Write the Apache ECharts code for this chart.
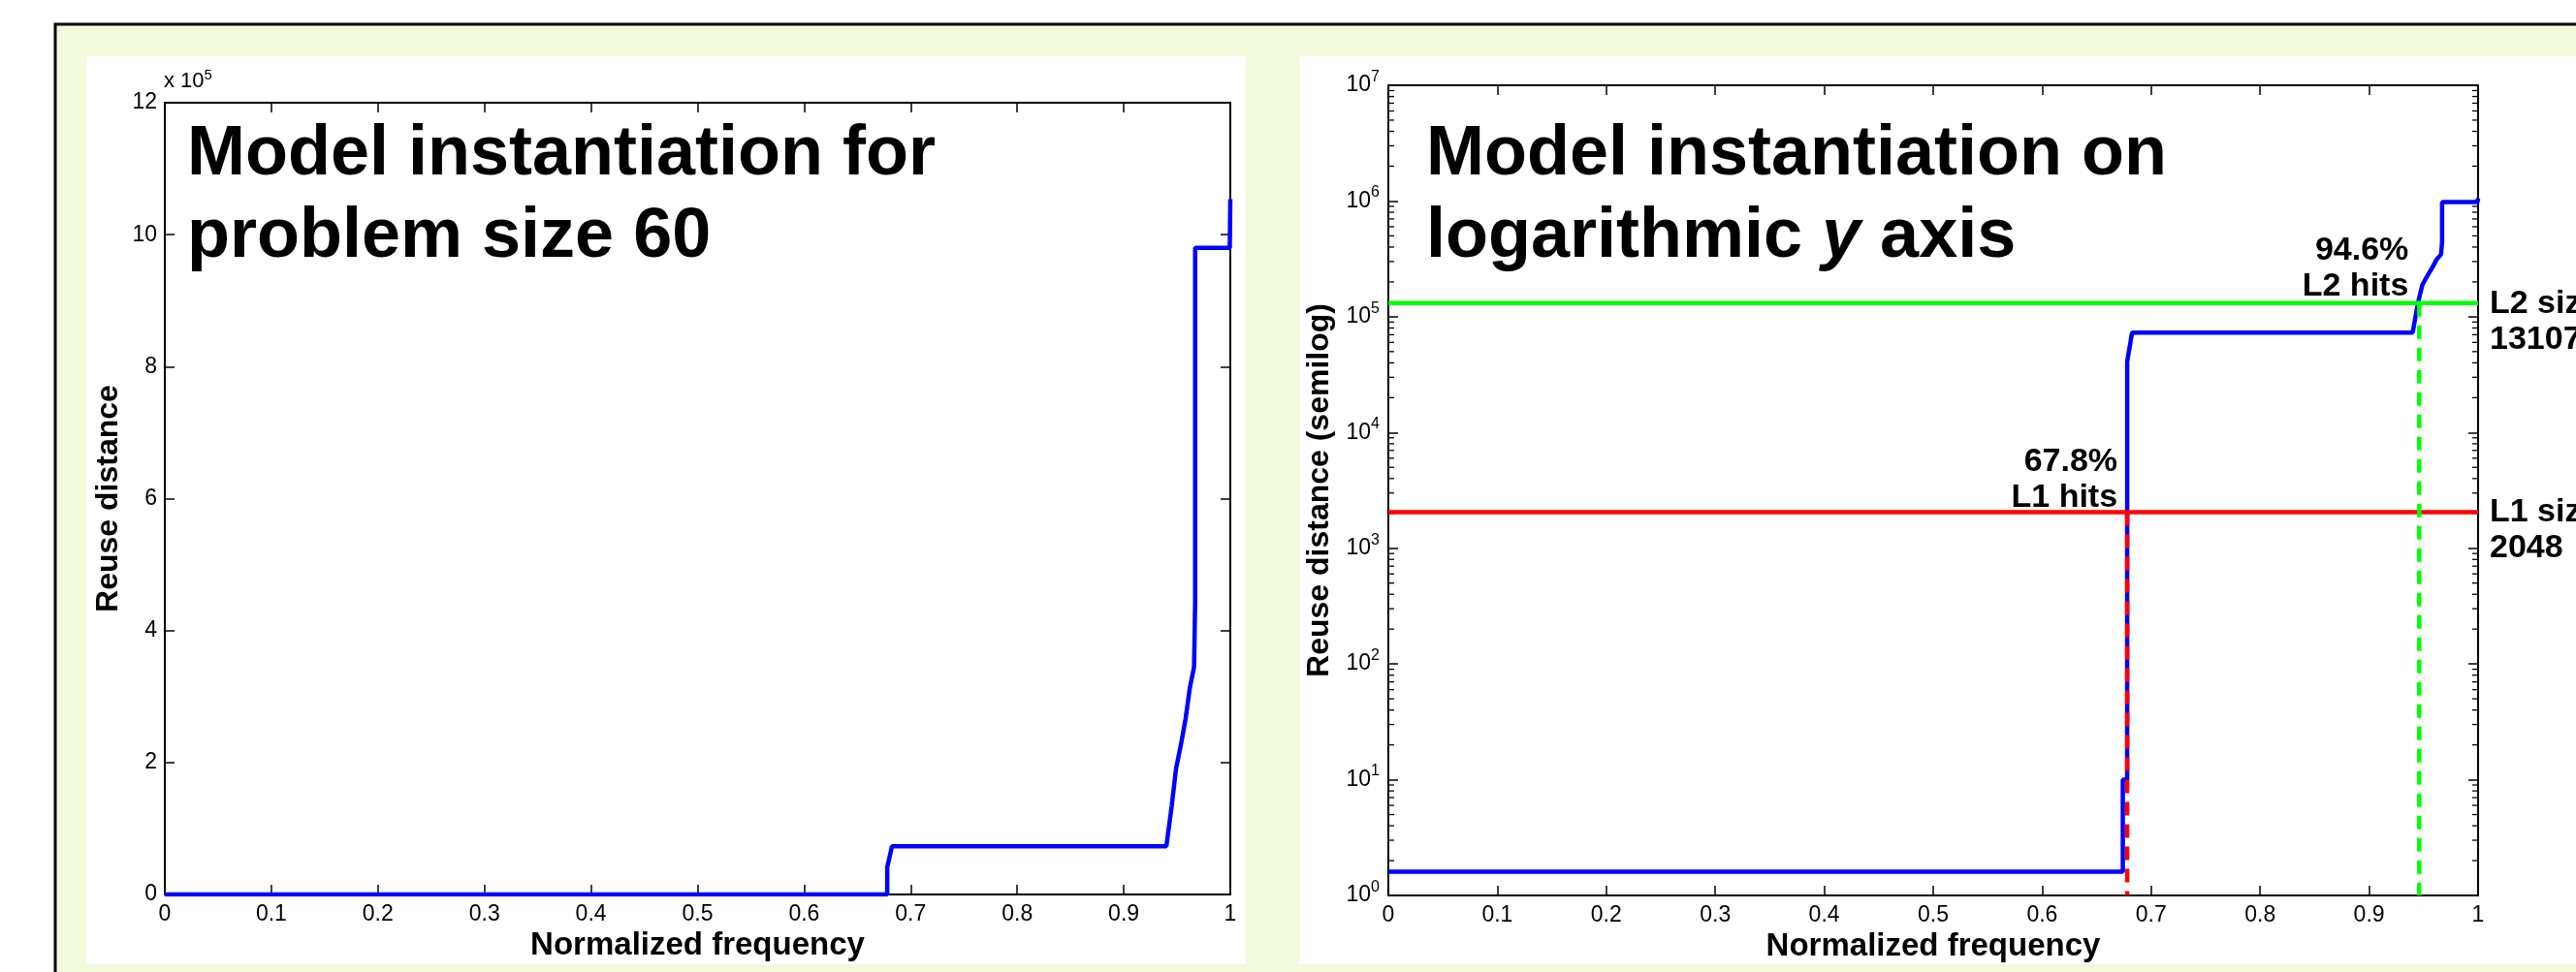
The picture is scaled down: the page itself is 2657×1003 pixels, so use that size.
<!DOCTYPE html>
<html>
  <head>
    <meta charset="UTF-8" />
    <title>Reuse distance model</title>
    <script src="https://cdn.jsdelivr.net/npm/echarts@6/dist/echarts.min.js"></script>
    <style>
      body { margin: 0; background: #fff; }
    </style>
  </head>
  <body>
    <div id="chart" style="width: 2657px; height: 1003px"></div>
  </body>
  <script>
    // reuse distance curve (sorted), normalized frequency on x
    const freq = [0, 0.674, 0.674, 0.678, 0.678, 0.6825, 0.940, 0.945, 0.949, 0.954, 0.958, 0.962, 0.966, 0.967, 0.967, 0.9995, 1.0];
    const reuseDist = [1.6, 1.6, 10, 10, 41000, 73000, 73000, 134000, 190000, 230000, 266000, 313000, 345000, 443000, 980000, 980000, 1054000];

    // cache sizes and hit ratios
    const l1Size = 2048;
    const l2Size = 131072;
    const l1Hit = 0.678;
    const l2Hit = 0.946;

    // log axis minor tick multipliers and decades
    const minorMult = [2, 3, 4, 5, 6, 7, 8, 9];
    const decades = [0, 1, 2, 3, 4, 5, 6];

    const FONT = '"Liberation Sans", Arial, Helvetica, sans-serif';
    const curve = freq.map((f, i) => [f, reuseDist[i]]);
    const minorVals = [];
    decades.forEach(d => minorMult.forEach(m => minorVals.push([0, m * Math.pow(10, d)])));

    let myChart = echarts.init(document.getElementById('chart'));

    const xLabelFmt = v => String(parseFloat(v.toFixed(1)));
    function xAx(grid, pos, withName) {
      return {
        type: 'value', gridIndex: grid, position: pos, min: 0, max: 1, interval: 0.1,
        axisLine: { onZero: false, lineStyle: { color: '#000', width: 2 } },
        axisTick: { inside: true, length: 10, lineStyle: { color: '#000', width: 1.5 } },
        axisLabel: { show: withName, color: '#000', fontSize: 23, fontFamily: FONT, margin: 9,
          showMinLabel: true, showMaxLabel: true, formatter: xLabelFmt },
        splitLine: { show: false },
        name: withName ? 'Normalized frequency' : '',
        nameLocation: 'middle', nameGap: 36,
        nameTextStyle: { color: '#000', fontSize: 33, fontWeight: 'bold', fontFamily: FONT }
      };
    }
    const tickStyle = { inside: true, length: 10, lineStyle: { color: '#000', width: 1.5 } };
    const axLine = { onZero: false, lineStyle: { color: '#000', width: 2 } };

    myChart.setOption({
      animation: false,
      backgroundColor: '#fff',
      graphic: [
        { id: 'frame', type: 'rect', z: -10, shape: { x: 57, y: 25, width: 2700, height: 1100 },
          style: { fill: '#F1FADA', stroke: '#000', lineWidth: 3 } },
        { id: 'panel1', type: 'rect', z: -9, shape: { x: 89, y: 58, width: 1196, height: 937 }, style: { fill: '#fff' } },
        { id: 'panel2', type: 'rect', z: -9, shape: { x: 1340, y: 58, width: 1400, height: 937 }, style: { fill: '#fff' } },
        { id: 'exp', type: 'text', z: 10, style: { x: 169, y: 98, textVerticalAlign: 'bottom',
          text: '{a|x 10}{s|5}',
          rich: { a: { fontSize: 22, lineHeight: 28, fontFamily: FONT, fill: '#000' },
                  s: { fontSize: 15, lineHeight: 15, verticalAlign: 'top', fontFamily: FONT, fill: '#000' } } } }
      ],
      title: [
        { text: 'Model instantiation for\nproblem size 60', left: 188, top: 113,
          textStyle: { fontSize: 72, fontWeight: 'bold', lineHeight: 85, fontFamily: FONT, color: '#000' } },
        { text: '{n|Model instantiation on}\n{n|logarithmic }{i|y}{n| axis}', left: 1466, top: 113,
          textStyle: { fontSize: 72, fontWeight: 'bold', lineHeight: 85, fontFamily: FONT, color: '#000',
            rich: {
              n: { fontSize: 72, fontWeight: 'bold', lineHeight: 85, fontFamily: FONT, color: '#000' },
              i: { fontSize: 72, fontWeight: 'bold', fontStyle: 'italic', lineHeight: 85, fontFamily: FONT, color: '#000' }
            } } }
      ],
      grid: [
        { left: 170, top: 106, width: 1099, height: 817 },
        { left: 1432, top: 88, width: 1124, height: 836 }
      ],
      xAxis: [xAx(0, 'bottom', true), xAx(0, 'top', false), xAx(1, 'bottom', true), xAx(1, 'top', false)],
      yAxis: [
        { type: 'value', gridIndex: 0, position: 'left', min: 0, max: 1200000, interval: 200000,
          axisLine: axLine, axisTick: tickStyle, splitLine: { show: false },
          axisLabel: { color: '#000', fontSize: 23, fontFamily: FONT, margin: 8, formatter: v => String(v / 100000) },
          name: 'Reuse distance', nameLocation: 'middle', nameGap: 42,
          nameTextStyle: { color: '#000', fontSize: 32, fontWeight: 'bold', fontFamily: FONT } },
        { type: 'value', gridIndex: 0, position: 'right', min: 0, max: 1200000, interval: 200000,
          axisLine: axLine, axisTick: tickStyle, splitLine: { show: false }, axisLabel: { show: false } },
        { type: 'log', logBase: 10, gridIndex: 1, position: 'left', min: 1, max: 10000000, splitNumber: 7,
          axisLine: axLine, axisTick: tickStyle, splitLine: { show: false },
          axisLabel: { margin: 9, formatter: v => '{b|10}{s|' + Math.round(Math.log10(v)) + '}',
            rich: { b: { fontSize: 23, lineHeight: 33, fontFamily: FONT, color: '#000' },
                    s: { fontSize: 16, lineHeight: 16, verticalAlign: 'top', fontFamily: FONT, color: '#000' } } },
          name: 'Reuse distance (semilog)', nameLocation: 'middle', nameGap: 55,
          nameTextStyle: { color: '#000', fontSize: 32, fontWeight: 'bold', fontFamily: FONT } },
        { type: 'log', logBase: 10, gridIndex: 1, position: 'right', min: 1, max: 10000000, splitNumber: 7,
          axisLine: axLine, axisTick: tickStyle, splitLine: { show: false }, axisLabel: { show: false } }
      ],
      series: [
        { type: 'line', xAxisIndex: 0, yAxisIndex: 0, data: curve, showSymbol: false,
          lineStyle: { color: '#0000FF', width: 4.5 } },
        { type: 'custom', xAxisIndex: 2, yAxisIndex: 2, data: minorVals, encode: { x: 0, y: 1 },
          renderItem: (params, api) => {
            const y = api.value(1);
            const l = api.coord([0, y]);
            const r = api.coord([1, y]);
            const st = { stroke: '#000', lineWidth: 1.3 };
            return { type: 'group', children: [
              { type: 'line', shape: { x1: l[0], y1: l[1], x2: l[0] + 6, y2: l[1] }, style: st },
              { type: 'line', shape: { x1: r[0] - 6, y1: r[1], x2: r[0], y2: r[1] }, style: st }
            ] };
          } },
        { type: 'line', xAxisIndex: 2, yAxisIndex: 2, data: curve, showSymbol: false,
          lineStyle: { color: '#0000FF', width: 4.5 } },
        { type: 'line', xAxisIndex: 2, yAxisIndex: 2, data: [[0, l1Size], [1, l1Size]], showSymbol: false,
          lineStyle: { color: '#FF0000', width: 4.5 } },
        { type: 'line', xAxisIndex: 2, yAxisIndex: 2, data: [[0, l2Size], [1, l2Size]], showSymbol: false,
          lineStyle: { color: '#00FF00', width: 4.5 } },
        { type: 'line', xAxisIndex: 2, yAxisIndex: 2, data: [[l1Hit, l1Size], [l1Hit, 1]], showSymbol: false,
          lineStyle: { color: '#FF0000', width: 4.5, type: [14, 9] } },
        { type: 'line', xAxisIndex: 2, yAxisIndex: 2, data: [[l2Hit, l2Size], [l2Hit, 1]], showSymbol: false,
          lineStyle: { color: '#00FF00', width: 4.5, type: [14, 9] } }
      ]
    });

    // annotations placed from the log panel's scales
    const px = (x, y) => myChart.convertToPixel({ xAxisIndex: 2, yAxisIndex: 2 }, [x, y]);
    const pL1 = px(l1Hit, l1Size);
    const pL2 = px(l2Hit, l2Size);
    const pR1 = px(1, l1Size);
    const pR2 = px(1, l2Size);
    const annFont = 'bold 34px ' + FONT;
    const ann = (id, text, x, y, align, vAlign) => ({
      id: id, type: 'text', z: 20,
      style: { text: text, x: x, y: y, font: annFont, fill: '#000', textAlign: align,
        textVerticalAlign: vAlign, lineHeight: 37 }
    });
    myChart.setOption({
      graphic: [
        ann('a1', (l1Hit * 100).toFixed(1) + '%\nL1 hits', pL1[0] - 10, pL1[1] + 4, 'right', 'bottom'),
        ann('a2', (l2Hit * 100).toFixed(1) + '%\nL2 hits', pL2[0] - 11, pL2[1] + 1, 'right', 'bottom'),
        ann('a3', 'L2 size\n' + l2Size, pR2[0] + 12, pR2[1] - 18, 'left', 'top'),
        ann('a4', 'L1 size\n' + l1Size, pR1[0] + 12, pR1[1] - 18, 'left', 'top')
      ]
    });
  </script>
</html>
